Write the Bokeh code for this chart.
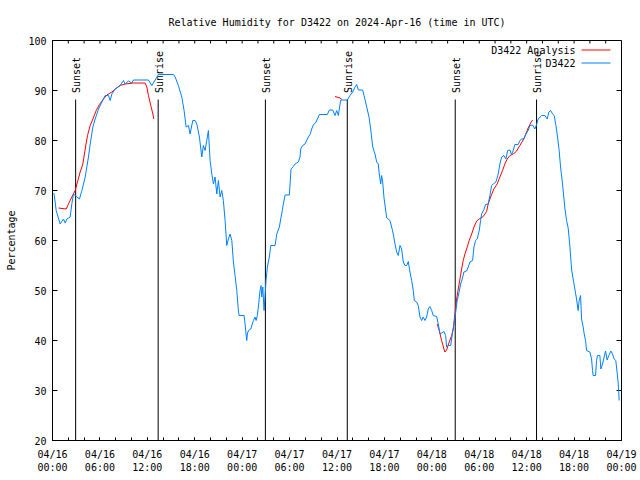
import numpy as np
import pandas as pd
from bokeh.plotting import figure
from bokeh.models import (Range1d, FixedTicker, DatetimeTickFormatter,
                          ColumnDataSource, Label, Arrow)
from bokeh.embed import file_html
from bokeh.resources import INLINE
from bokeh.core.properties import value

TITLE = "Relative Humidity for D3422 on 2024-Apr-16 (time in UTC)"
START = "2024-04-16 00:00"
END = "2024-04-19 00:00"
FONT = "DejaVu Sans Mono"

# Observations (hours after START, relative humidity %)
obs_hours = [0.15, 0.21, 0.47, 0.97, 1.39, 1.61, 1.82, 2.24, 2.45, 2.66,
             3.09, 3.41, 3.72, 4.14, 4.55, 4.77, 5.11, 5.40, 5.82, 6.25,
             6.66, 7.08, 7.30, 7.51, 7.93, 8.56, 8.98, 9.19, 9.61, 10.04,
             10.24, 12.14, 12.57, 12.99, 13.40, 15.30, 15.52, 15.93, 16.36, 16.65,
             16.91, 17.20, 17.41, 17.75, 18.04, 18.26, 18.59, 18.89, 19.09, 19.31,
             19.52, 19.73, 19.94, 20.16, 20.36, 20.57, 20.79, 20.99, 21.21, 21.42,
             21.62, 21.84, 22.05, 22.26, 22.47, 22.69, 22.89, 23.10, 23.32, 23.52,
             23.61, 24.24, 24.37, 24.49, 24.58, 24.66, 24.79, 25.09, 25.42, 25.63,
             25.76, 25.92, 26.05, 26.26, 26.39, 26.48, 26.61, 26.77, 26.90, 27.02,
             27.19, 27.44, 27.62, 28.16, 28.38, 28.71, 28.88, 29.08, 29.21, 29.43,
             29.97, 30.06, 30.18, 30.48, 30.69, 31.11, 31.32, 31.41, 31.66, 31.95,
             32.37, 32.59, 32.80, 33.00, 33.35, 33.64, 33.76, 34.78, 35.03, 35.46,
             35.75, 35.96, 36.17, 36.29, 36.47, 37.30, 37.65, 37.99, 38.28, 38.49,
             38.70, 39.25, 39.42, 39.76, 40.05, 40.26, 40.52, 40.81, 41.02, 41.22,
             41.35, 41.53, 41.65, 41.78, 41.95, 42.29, 42.70, 42.92, 43.12, 43.34,
             43.55, 43.75, 43.97, 44.18, 44.39, 44.60, 44.82, 45.02, 45.23, 45.45,
             45.65, 45.78, 46.08, 46.28, 46.50, 46.71, 46.91, 47.13, 47.34, 47.55,
             47.76, 47.98, 48.18, 48.61, 48.81, 49.03, 49.24, 49.53, 49.75, 49.87,
             50.08, 50.38, 50.63, 50.80, 51.05, 51.21, 51.43, 51.64, 51.85, 52.06,
             52.40, 52.61, 52.82, 53.16, 53.33, 53.54, 53.74, 54.00, 54.17, 54.30,
             54.59, 54.81, 55.13, 55.35, 55.56, 55.77, 56.11, 56.40, 56.61, 56.83,
             57.12, 57.37, 57.59, 57.88, 58.09, 58.30, 58.51, 58.93, 59.14, 59.36,
             59.65, 59.90, 60.19, 60.41, 60.75, 61.04, 61.26, 61.46, 61.89, 62.31,
             62.60, 62.81, 63.03, 63.28, 63.48, 63.70, 63.91, 64.11, 64.29, 64.54,
             64.83, 65.05, 65.25, 65.46, 65.68, 65.88, 66.10, 66.31, 66.51, 66.64,
             66.82, 66.95, 67.15, 67.28, 67.45, 67.58, 68.00, 68.21, 68.34, 68.41,
             68.72, 68.84, 68.97, 69.26, 69.39, 69.60, 69.80, 69.98, 70.18, 70.40,
             70.65, 70.86, 71.07, 71.28, 71.44, 71.57, 71.66, 71.70]
obs_rh = [69.5, 69.2, 66.0, 63.3, 64.3, 63.5, 64.3, 64.7, 67.4, 69.3,
          68.7, 68.3, 70.0, 72.7, 76.7, 79.3, 82.7, 84.3, 86.3, 87.7,
          89.0, 89.0, 88.0, 89.3, 90.3, 91.0, 92.0, 91.3, 91.9, 91.5,
          92.1, 92.1, 91.0, 92.1, 93.2, 93.2, 92.7, 91.0, 88.7, 86.0,
          82.7, 83.0, 81.3, 84.0, 84.0, 83.3, 80.7, 76.7, 79.0, 78.0,
          80.0, 82.0, 76.0, 73.3, 71.3, 72.7, 69.3, 72.0, 68.7, 70.0,
          68.0, 64.0, 59.0, 60.3, 61.3, 60.0, 55.7, 53.0, 50.0, 46.0,
          45.0, 45.0, 43.3, 41.3, 40.0, 41.3, 42.0, 42.3, 44.0, 44.7,
          44.0, 45.0, 46.7, 50.0, 51.0, 48.7, 50.7, 46.0, 49.0, 52.0,
          54.7, 56.7, 59.0, 59.0, 61.3, 62.7, 64.3, 66.0, 67.3, 69.1,
          69.1, 71.3, 74.3, 74.8, 75.3, 75.7, 76.7, 78.3, 79.0, 79.3,
          80.7, 81.2, 82.3, 83.1, 83.7, 84.7, 85.2, 85.2, 86.1, 86.1,
          85.0, 86.0, 85.0, 86.3, 88.1, 88.1, 89.0, 89.7, 90.7, 91.2,
          90.1, 90.1, 89.0, 86.7, 84.7, 82.3, 78.7, 77.3, 75.7, 75.3,
          73.3, 71.3, 73.0, 71.7, 68.5, 64.5, 64.0, 62.7, 61.3, 59.3,
          57.7, 57.0, 59.0, 58.3, 55.7, 55.0, 55.0, 55.8, 53.7, 52.0,
          50.0, 48.0, 47.7, 47.0, 44.7, 44.0, 44.7, 44.0, 44.7, 46.3,
          46.8, 46.0, 45.0, 44.8, 43.3, 41.3, 41.5, 41.8, 41.0, 38.7,
          39.0, 39.0, 41.7, 43.3, 46.0, 48.0, 49.5, 51.3, 52.3, 53.7,
          53.9, 54.7, 55.7, 56.0, 58.7, 60.0, 60.3, 62.0, 64.0, 65.3,
          66.2, 67.2, 67.3, 69.0, 71.0, 71.3, 71.7, 73.3, 75.3, 76.7,
          77.0, 76.3, 78.0, 78.1, 77.2, 78.0, 79.2, 79.2, 80.0, 80.3,
          80.3, 81.3, 82.0, 83.0, 83.1, 82.3, 83.2, 84.3, 85.0, 85.0,
          84.3, 85.7, 86.0, 85.3, 85.0, 83.0, 80.7, 78.0, 74.7, 71.3,
          66.5, 64.0, 62.5, 59.0, 54.3, 52.3, 50.3, 48.3, 46.0, 48.0,
          49.0, 44.3, 42.7, 41.3, 40.0, 38.0, 37.7, 36.3, 34.0, 33.0,
          33.0, 36.0, 37.0, 37.0, 34.3, 35.3, 36.7, 37.9, 36.1, 37.0,
          37.9, 37.3, 36.3, 36.0, 33.7, 31.7, 29.3, 28.0]

# Analysis runs (three separate pieces)
ana1_hours = [0.76, 1.73, 2.02, 2.45, 2.87, 3.16, 3.50, 3.84, 4.14, 4.43,
              4.77, 5.11, 5.53, 5.94, 6.45, 6.88, 7.51, 7.93, 8.56, 9.19,
              10.24, 11.72, 11.94, 12.14, 12.44, 12.70, 12.82]
ana1_rh = [66.5, 66.3, 67.3, 68.7, 70.0, 71.7, 73.7, 75.3, 78.3, 81.0,
           83.0, 84.3, 86.0, 87.2, 88.3, 89.1, 89.7, 90.3, 91.0, 91.3,
           91.5, 91.5, 90.7, 89.0, 87.0, 85.3, 84.3]
ana2_hours = [35.75, 36.38, 36.63]
ana2_rh = [88.8, 88.5, 88.2]
ana3_hours = [48.68, 48.94, 49.24, 49.53, 49.66, 49.87, 50.20, 50.51, 50.71, 50.92,
              51.14, 51.34, 51.56, 51.77, 51.97, 52.19, 52.40, 52.73, 53.04, 53.33,
              53.67, 54.00, 54.50, 54.93, 55.13, 55.44, 55.85, 56.27, 56.61, 56.95,
              57.24, 57.54, 57.88, 58.30, 58.73, 59.14, 59.56, 59.90, 60.19, 60.50,
              60.75]
ana3_rh = [43.3, 42.0, 40.0, 38.3, 37.7, 38.1, 39.7, 41.0, 42.3, 45.3,
           48.3, 50.3, 52.3, 54.3, 56.0, 57.3, 58.3, 60.0, 61.3, 62.7,
           63.9, 64.3, 64.8, 65.8, 67.3, 68.7, 70.3, 71.3, 72.7, 74.0,
           75.3, 76.3, 77.0, 77.3, 77.9, 79.0, 80.1, 81.3, 82.5, 83.5,
           84.1]

# Sun events (hours after START)
sun_hours = [2.93, 13.37, 26.94, 37.30, 50.96, 61.25]
sun_labels = ["Sunset", "Sunrise", "Sunset", "Sunrise", "Sunset", "Sunrise"]

# Series names and colours
series_names = ["D3422 Analysis", "D3422"]
series_colors = ["#ff0000", "#0080ff"]

# Axis ticks
y_ticks = [20, 30, 40, 50, 60, 70, 80, 90, 100]
x_major_step_h = 6
x_minor_step_h = 2
Y_MIN, Y_MAX = 20, 100
SUN_LINE_TOP = 88.2
SUN_LABEL_Y = 89.5

start_ms = pd.Timestamp(START).value / 1e6
end_ms = pd.Timestamp(END).value / 1e6
span_h = (end_ms - start_ms) / 3.6e6


def to_ms(hours):
    return list(start_ms + np.asarray(hours, dtype=float) * 3.6e6)


x_major = to_ms(np.arange(0, span_h + 0.01, x_major_step_h))
x_minor = to_ms(np.arange(0, span_h + 0.01, x_minor_step_h))

p = figure(width=640, height=480, x_axis_type="datetime",
           output_backend="svg", toolbar_location=None,
           x_range=Range1d(start_ms, end_ms), y_range=Range1d(Y_MIN, Y_MAX),
           min_border_left=52, min_border_right=19, min_border_top=40,
           min_border_bottom=40, title=TITLE)
p.background_fill_color = "white"
p.border_fill_color = "white"
p.outline_line_color = "black"
p.outline_line_width = 1
p.grid.visible = False

p.title.align = "center"
p.title.text_font = FONT
p.title.text_font_size = "10px"
p.title.text_font_style = "normal"
p.title.text_color = "black"
p.title.standoff = 26

fmt = "%m/%d\n%H:%M"
formatter = DatetimeTickFormatter(microseconds=fmt, milliseconds=fmt, seconds=fmt,
                                  minsec=fmt, minutes=fmt, hourmin=fmt, hours=fmt,
                                  days=fmt, months=fmt, years=fmt)

xa = p.xaxis[0]
xa.ticker = FixedTicker(ticks=x_major, minor_ticks=x_minor)
xa.formatter = formatter
xa.major_label_text_font = FONT
xa.major_label_text_font_size = "10px"
xa.major_label_text_color = "black"
xa.major_label_text_line_height = 1.25
xa.major_label_standoff = 8
xa.major_tick_in = 3
xa.major_tick_out = 0
xa.minor_tick_in = 3
xa.minor_tick_out = 0
xa.axis_line_color = "black"

ya = p.yaxis[0]
ya.ticker = FixedTicker(ticks=y_ticks)
ya.major_label_text_font = FONT
ya.major_label_text_font_size = "10px"
ya.major_label_text_color = "black"
ya.major_label_standoff = 6
ya.major_tick_in = 5
ya.major_tick_out = 0
ya.minor_tick_line_color = None
ya.axis_label = "Percentage"
ya.axis_label_text_font = FONT
ya.axis_label_text_font_size = "10px"
ya.axis_label_text_font_style = "normal"
ya.axis_label_text_color = "black"
ya.axis_label_standoff = 8

# Mirrored ticks on the top and right edges of the frame
top_src = ColumnDataSource(dict(t=x_minor))
p.ray(x="t", y=Y_MAX, length=3, length_units="screen", angle=-np.pi / 2,
      source=top_src, line_color="black", line_width=1)
right_src = ColumnDataSource(dict(v=y_ticks))
p.ray(x=end_ms, y="v", length=5, length_units="screen", angle=np.pi,
      source=right_src, line_color="black", line_width=1)

# Sun event markers
sun_src = ColumnDataSource(dict(t=to_ms(sun_hours), label=sun_labels))
p.segment(x0="t", y0=Y_MIN, x1="t", y1=SUN_LINE_TOP, source=sun_src,
          line_color="black", line_width=1)
p.text(x="t", y=SUN_LABEL_Y, text="label", source=sun_src, angle=np.pi / 2,
       text_align="left", text_baseline="middle", x_offset=1,
       text_font=value(FONT), text_font_size="10px", text_color="black")

ana_src = ColumnDataSource(dict(xs=[to_ms(ana1_hours), to_ms(ana2_hours), to_ms(ana3_hours)],
                                ys=[ana1_rh, ana2_rh, ana3_rh]))
p.multi_line(xs="xs", ys="ys", source=ana_src, line_color=series_colors[0], line_width=1)

obs_src = ColumnDataSource(dict(t=to_ms(obs_hours), rh=obs_rh))
p.line(x="t", y="rh", source=obs_src, line_color=series_colors[1], line_width=1)

# Key in gnuplot style: name on the left, line sample on the right
KEY_TEXT_RIGHT = 523     # screen px from frame left
KEY_SAMPLE = (529, 558)  # screen px from frame left
KEY_TOP_ROW = 390.5      # screen px from frame bottom
KEY_ROW_STEP = 13
for i, (name, color) in enumerate(zip(series_names, series_colors)):
    row_y = KEY_TOP_ROW - KEY_ROW_STEP * i
    p.add_layout(Label(x=KEY_TEXT_RIGHT, y=row_y, x_units="screen", y_units="screen",
                       text=name, text_align="right", text_baseline="middle",
                       text_font=FONT, text_font_size="10px", text_color="black"))
    p.add_layout(Arrow(start=None, end=None,
                       x_start=KEY_SAMPLE[0], y_start=row_y,
                       x_end=KEY_SAMPLE[1], y_end=row_y,
                       start_units="screen", end_units="screen",
                       line_color=color, line_width=1))

open("out.html", "w").write(file_html(p, INLINE))
